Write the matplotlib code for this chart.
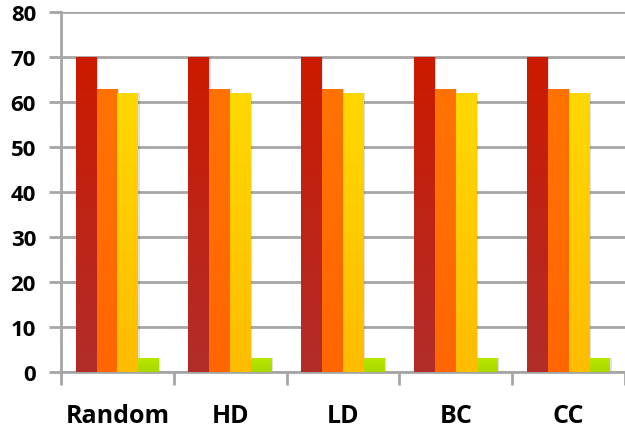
import numpy as np
import matplotlib.pyplot as plt
from matplotlib.colors import LinearSegmentedColormap
from matplotlib.patches import Rectangle

categories = ["Random", "HD", "LD", "BC", "CC"]
series_a = [70, 70, 70, 70, 70]
series_b = [63, 63, 63, 63, 63]
series_c = [62, 62, 62, 62, 62]
series_d = [3, 3, 3, 3, 3]
y_ticks = [0, 10, 20, 30, 40, 50, 60, 70, 80]

# top colour, bottom colour for each series
gradients = [
    ("#cc1a00", "#b22d2a"),
    ("#ff7300", "#ff6600"),
    ("#ffd800", "#ffbc00"),
    ("#b8e800", "#a8d800"),
]

plt.rcParams["font.family"] = ["Open Sans", "DejaVu Sans"]
plt.rcParams["font.weight"] = "bold"
fig = plt.figure(figsize=(6.25, 4.31), dpi=100)
ax = fig.add_axes([0.0976, 0.1346, 0.9024, 0.835])

grid_col = "#a6a6a6"
ax.set_xlim(0, 5)
ax.set_ylim(0, 80)
ax.set_yticks(y_ticks)
ax.set_yticklabels([str(t) for t in y_ticks])
ax.yaxis.grid(True, color=grid_col, linewidth=2)
ax.set_axisbelow(True)
for side in ["top", "right"]:
    ax.spines[side].set_visible(False)
for side in ["left", "bottom"]:
    ax.spines[side].set_color(grid_col)
    ax.spines[side].set_linewidth(2)

ax.set_xticks(np.arange(0, 6))
ax.set_xticklabels([])
ax.set_xticks(np.arange(len(categories)) + 0.5, minor=True)
ax.set_xticklabels(categories, minor=True)
ax.tick_params(axis="x", which="major", length=9, width=2, color=grid_col)
ax.tick_params(axis="x", which="minor", length=0, pad=22, labelsize=18)
ax.tick_params(axis="y", length=9, width=2, color=grid_col, pad=9, labelsize=16)

bar_w = 0.185
start = 0.13
all_series = [series_a, series_b, series_c, series_d]
for s, values in enumerate(all_series):
    cmap = LinearSegmentedColormap.from_list("g%d" % s, [gradients[s][1], gradients[s][0]])
    grad = np.linspace(0, 1, 100).reshape(-1, 1)
    for i, v in enumerate(values):
        x0 = i + start + s * bar_w
        # soft shadow to the right of each bar
        sh = Rectangle((x0 + 0.012, 0), bar_w, v, color="#000000", alpha=0.12,
                       linewidth=0, zorder=2)
        ax.add_patch(sh)
        im = ax.imshow(grad, cmap=cmap, aspect="auto", origin="lower",
                       extent=(x0, x0 + bar_w, 0, v), zorder=3)
        clip = Rectangle((x0, 0), bar_w, v, transform=ax.transData)
        im.set_clip_path(clip)

ax.set_xlim(0, 5)
ax.set_ylim(0, 80)
fig.savefig("out.png", dpi=100)
